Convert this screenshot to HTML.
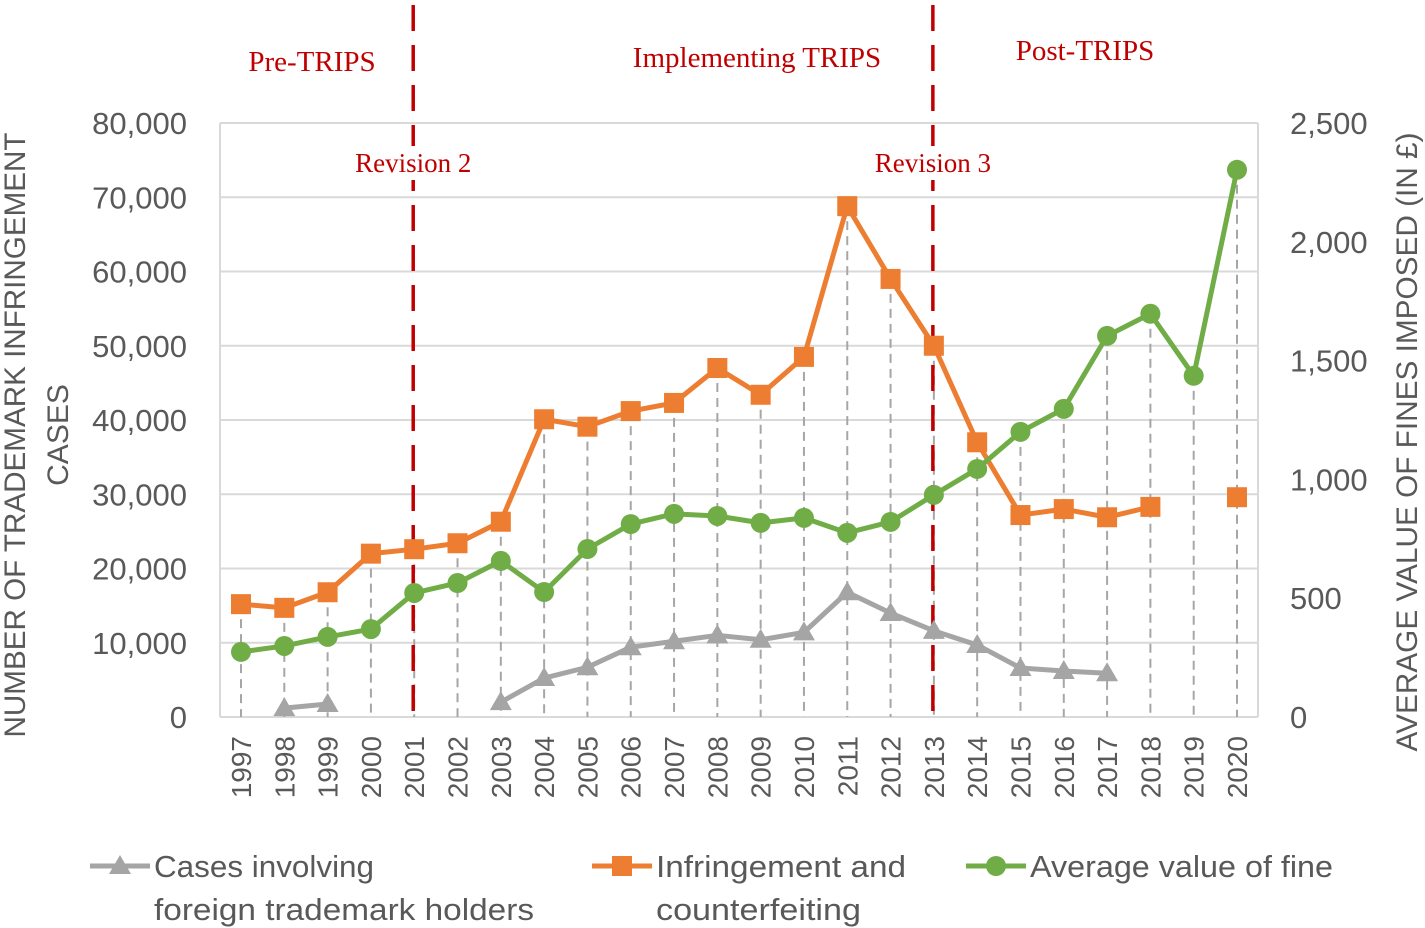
<!DOCTYPE html>
<html><head><meta charset="utf-8"><style>
body{margin:0;background:#fff;}
svg{display:block;font-family:"Liberation Sans",sans-serif;}
</style></head><body>
<svg id="c" width="1425" height="928"></svg>
<script>
const years=[1997,1998,1999,2000,2001,2002,2003,2004,2005,2006,2007,2008,2009,2010,2011,2012,2013,2014,2015,2016,2017,2018,2019,2020];
const infringement=[15200,14700,16800,22000,22600,23400,26300,40100,39100,41200,42300,47000,43400,48500,68800,59000,50000,37000,27200,28000,26900,28300,null,29600];
const foreign=[null,1200,1750,null,null,null,2000,5250,6700,9400,10200,11000,10400,11400,16800,14000,11600,9700,6600,6200,5900,null,null,null];
const fine=[274,299,337,370,522,564,657,526,707,812,855,846,817,838,775,821,935,1044,1200,1297,1604,1697,1436,2303];
const leftTicks=[0,10000,20000,30000,40000,50000,60000,70000,80000];
const rightTicks=[0,500,1000,1500,2000,2500];

const NS="http://www.w3.org/2000/svg";
const svg=document.getElementById('c');
const X0=220,X1=1258,Y0=717,Y1=123;
const xS=i=>241+i*(1237-241)/(years.length-1);
const yL=v=>Y0-(v/80000)*(Y0-Y1);
const yR=v=>Y0-(v/2500)*(Y0-Y1);
function el(t,a,txt){const e=document.createElementNS(NS,t);for(const k in a)e.setAttribute(k,a[k]);if(txt!=null)e.textContent=txt;svg.appendChild(e);return e;}

leftTicks.forEach(v=>{
  const g=el('line',{x1:X0,x2:X1,y1:yL(v),y2:yL(v),stroke:'#d9d9d9','stroke-width':2});
  
  
  const t=el('text',{x:187,y:yL(v)+11,'text-anchor':'end','font-size':31,fill:'#595959'},v.toLocaleString('en-US'));
  
  
});
rightTicks.forEach(v=>{
  const t=el('text',{x:1290,y:yR(v)+11,'text-anchor':'start','font-size':31,fill:'#595959'},v.toLocaleString('en-US'));
  
  
});
let ax=el('line',{x1:X0,x2:X0,y1:Y1,y2:Y0,stroke:'#d9d9d9','stroke-width':2});

ax=el('line',{x1:X1,x2:X1,y1:Y1,y2:Y0,stroke:'#d9d9d9','stroke-width':2});


years.forEach((y,i)=>{
  const vals=[infringement[i]!=null?yL(infringement[i]):999,foreign[i]!=null?yL(foreign[i]):999,yR(fine[i])];
  const top=Math.min(...vals);
  const d=el('line',{x1:xS(i),x2:xS(i),y1:top,y2:Y0,stroke:'#a6a6a6','stroke-width':2,'stroke-dasharray':'9,6'});
  
  
  const t=el('text',{x:0,y:0,'font-size':28,fill:'#595959','text-anchor':'end',transform:`translate(${xS(i)+10},736) rotate(-90)`},String(y));
  
  
});

[[4,'Revision 2'],[16,'Revision 3']].forEach(([i,lab])=>{
  const x=xS(i)-1;
  const l=el('line',{x1:x,x2:x,y1:5,y2:Y0,stroke:'#c00000','stroke-width':3.5,'stroke-dasharray':'26,14'});
  
  
  const r=el('rect',{x:x-66,y:146,width:132,height:34,fill:'#fff'});
  
  
  const t=el('text',{x:x,y:172,'text-anchor':'middle','font-size':27,fill:'#c00000','font-family':'Liberation Serif, serif'},lab);
  
  
});
[[312,71,'Pre-TRIPS'],[757,67,'Implementing  TRIPS'],[1085,60,'Post-TRIPS']].forEach(([x,y,s])=>{
  const t=el('text',{x:x,y:y,'text-anchor':'middle','font-size':29,fill:'#c00000','font-family':'Liberation Serif, serif','xml:space':'preserve'},s);
  
  
});

function series(vals,scale,color,name){
  let segs=[],cur=[];
  vals.forEach((v,i)=>{if(v==null){if(cur.length)segs.push(cur);cur=[];}else cur.push([xS(i),scale(v)]);});
  if(cur.length)segs.push(cur);
  segs.forEach(s=>{if(s.length>1){const p=el('polyline',{points:s.map(p=>p.join(',')).join(' '),fill:'none',stroke:color,'stroke-width':5,'stroke-linejoin':'round'});
    }});
}
function marker(kind,x,y,color,name){
  let m;
  if(kind==='sq')m=el('rect',{x:x-10,y:y-10,width:20,height:20,fill:color});
  else if(kind==='ci')m=el('circle',{cx:x,cy:y,r:10,fill:color});
  else m=el('polygon',{points:`${x},${y-11} ${x+11},${y+8} ${x-11},${y+8}`,fill:color});
  
  
}
series(foreign,yL,'#a5a5a5','foreign');
series(infringement,yL,'#ed7d31','infringement');
series(fine,yR,'#70ad47','fine');
foreign.forEach((v,i)=>{if(v!=null)marker('tr',xS(i),yL(v),'#a5a5a5','foreign-point');});
infringement.forEach((v,i)=>{if(v!=null)marker('sq',xS(i),yL(v),'#ed7d31','infringement-point');});
fine.forEach((v,i)=>{marker('ci',xS(i),yR(v),'#70ad47','fine-point');});

let t=el('text',{x:0,y:0,'font-size':30,fill:'#595959','text-anchor':'middle',textLength:605,lengthAdjust:'spacingAndGlyphs',transform:'translate(25,435) rotate(-90)'},'NUMBER OF TRADEMARK INFRINGEMENT');

t=el('text',{x:0,y:0,'font-size':30,fill:'#595959','text-anchor':'middle',transform:'translate(68,435) rotate(-90)'},'CASES');

t=el('text',{x:0,y:0,'font-size':30,fill:'#595959','text-anchor':'middle',textLength:619,lengthAdjust:'spacingAndGlyphs',transform:'translate(1417,442) rotate(-90)'},'AVERAGE VALUE OF FINES  IMPOSED (IN £)');


[[90,'tr','#a5a5a5','Cases involving','foreign trademark holders','legend-foreign',220,380],
 [592,'sq','#ed7d31','Infringement and','counterfeiting','legend-infringement',250,205],
 [966,'ci','#70ad47','Average value of fine',null,'legend-fine',303,0]].forEach(([x,k,c,a,b,n,w1,w2])=>{
  const l=el('line',{x1:x,x2:x+60,y1:866,y2:866,stroke:c,'stroke-width':5});
  
  marker(k,x+30,866,c,n+'-marker');
  let tt=el('text',{x:x+64,y:877,'font-size':31,fill:'#595959',textLength:w1,lengthAdjust:'spacingAndGlyphs'},a);
  
  if(b){tt=el('text',{x:x+64,y:920,'font-size':31,fill:'#595959',textLength:w2,lengthAdjust:'spacingAndGlyphs'},b);
  }
});
</script>
</body></html>
